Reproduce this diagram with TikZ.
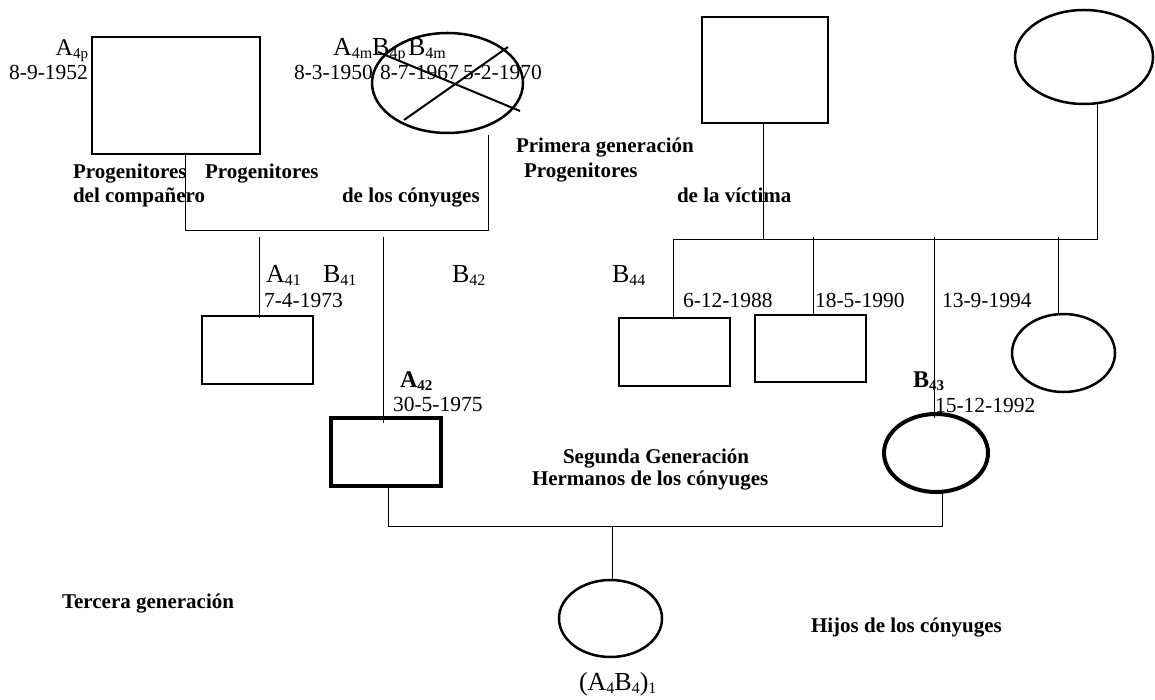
\documentclass[tikz,border=0pt]{standalone}
\usepackage{fontspec}
\setmainfont{Liberation Serif}
\usetikzlibrary{shapes.geometric,calc}
\newcommand{\biglab}[2]{{\fontsize{26}{26}\selectfont #1\raisebox{-3pt}{\fontsize{16}{16}\selectfont #2}}}
\newcommand{\midlab}[2]{{\fontsize{24}{24}\selectfont #1\raisebox{-3pt}{\fontsize{15}{15}\selectfont #2}}}
\tikzset{
  txt/.style={inner sep=0pt, outer sep=0pt, anchor=base west},
  dt/.style={txt, font=\fontsize{21.5}{21.5}\selectfont},
  bt/.style={txt, font=\fontsize{21}{21}\selectfont\bfseries},
  sq/.style={draw, rectangle, line width=2.5pt, inner sep=0pt, outer sep=0pt},
  sqb/.style={sq, line width=4pt},
  el/.style={draw, ellipse, line width=2.5pt, inner sep=0pt, outer sep=0pt},
  elb/.style={el, line width=4pt},
  con/.style={line width=1pt},
}
\begin{document}
\begin{tikzpicture}[x=1pt,y=-1pt]
\useasboundingbox (0,0) rectangle (1155,700);
% first generation
\node[sq, minimum width=168pt, minimum height=117pt] (pL) at (176,95.5) {};
\node[el, minimum width=151pt, minimum height=100pt] (pLm) at (447.5,83) {};
\draw[line width=2pt] ($(pLm.center)+(-69.5,-31)$) -- ($(pLm.center)+(72.5,28)$);
\draw[line width=2pt] ($(pLm.center)+(-43.5,37)$) -- ($(pLm.center)+(60.5,-36)$);
\node[sq, minimum width=126pt, minimum height=106pt] (pR) at (765,70) {};
\node[el, minimum width=138pt, minimum height=94pt] (pRm) at (1084,57) {};
% second generation
\node[sq, minimum width=111pt, minimum height=68pt] (a41) at (257.5,350) {};
\node[sqb, minimum width=110pt, minimum height=68pt] (a42) at (386,452) {};
\node[sq, minimum width=111pt, minimum height=68pt] (b44) at (674.5,352) {};
\node[sq, minimum width=111pt, minimum height=67pt] (b45) at (810.5,348.5) {};
\node[el, minimum width=103pt, minimum height=78pt] (b46) at (1063.5,353) {};
\node[elb, minimum width=104pt, minimum height=78pt] (b43) at (936,453) {};
% third generation
\node[el, minimum width=103pt, minimum height=77pt] (ch) at (610.5,618.5) {};
% connectors, left family
\coordinate (jL1) at (185,231);
\coordinate (jL2) at (488,231);
\coordinate (mL) at (488,135);
\draw[con] (pL.south -| jL1) -- (jL1) -- (jL2) -- (mL);
\coordinate (cA41) at (259,237);
\coordinate (cA42) at (383,237);
\draw[con] (cA41) -- ($(a41.north -| cA41)+(0,2)$);
\draw[con] (cA42) -- ($(a42.north -| cA42)+(0,5)$);
% connectors, right family
\coordinate (jR1) at (673,240);
\coordinate (jR2) at (1097,240);
\coordinate (jRm) at (763,240);
\draw[con] (pR.south -| jRm) -- (jRm);
\draw[con] (jR1) -- (jR2) -- (pRm.south -| jR2);
\draw[con] (jR1) -- (b44.north -| jR1);
\coordinate (cB45) at (813,237);
\coordinate (cB43) at (934,237);
\coordinate (cB46) at (1058,237);
\draw[con] (cB45) -- (b45.north -| cB45);
\draw[con] (cB43) -- ($(b43.north -| cB43)+(0,4)$);
\draw[con] (cB46) -- (b46.north -| cB46);
% connectors, couple
\coordinate (jB1) at (388,526);
\coordinate (jB2) at (942,526);
\coordinate (jBc) at (612,526);
\draw[con] (a42.south -| jB1) -- (jB1) -- (jB2) -- ($(b43.south -| jB2)+(0,-1)$);
\draw[con] (jBc) -- (ch.north -| jBc);
% labels
\node[txt, anchor=base east] (lA4p) at (88,56) {\midlab{A}{4p}};
\node[dt, anchor=base east] (dA4p) at (88,80) {8-9-1952};
\node[txt] (lA4m) at (333,56) {\biglab{A}{4m}\biglab{B}{4p} \biglab{B}{4m}};
\node[dt] (dA4m) at (294,80) {8-3-1950};
\node[dt] (dB4p) at (380,80) {8-7-1967};
\node[dt] (dB4m) at (463,80) {5-2-1970};
\node[bt] (t1) at (73,179) {Progenitores};
\node[bt] (t2) at (205,179) {Progenitores};
\node[bt] (t3) at (73,203) {del compañero};
\node[bt] (t4) at (342,203) {de los cónyuges};
\node[bt] (t5) at (516,153) {Primera generación};
\node[bt] (t6) at (524,178) {Progenitores};
\node[bt] (t7) at (677,203) {de la víctima};
\node[txt] (lA41) at (266,283) {\biglab{A}{41}};
\node[txt] (lB41) at (323,283) {\biglab{B}{41}};
\node[dt] (dA41) at (264,307) {7-4-1973};
\node[txt] (lB42) at (452,283) {\biglab{B}{42}};
\node[txt] (lB44) at (612,283) {\biglab{B}{44}};
\node[dt] (d1) at (683,307) {6-12-1988};
\node[dt] (d2) at (815,307) {18-5-1990};
\node[dt] (d3) at (942,307) {13-9-1994};
\node[txt, font=\bfseries] (lA42) at (400,387) {\midlab{A}{42}};
\node[dt] (dA42) at (393,411) {30-5-1975};
\node[txt, font=\bfseries] (lB43) at (913,387) {\midlab{B}{43}};
\node[dt] (dB43) at (935,412) {15-12-1992};
\node[bt] (t8) at (563,463) {Segunda Generación};
\node[bt] (t9) at (532,485) {Hermanos de los cónyuges};
\node[bt] (t10) at (62,608) {Tercera generación};
\node[bt] (t11) at (811,632) {Hijos de los cónyuges};
\node[txt] (lch) at (579,690) {\biglab{(A}{4}\biglab{B}{4}\biglab{)}{1}};
\end{tikzpicture}
\end{document}
